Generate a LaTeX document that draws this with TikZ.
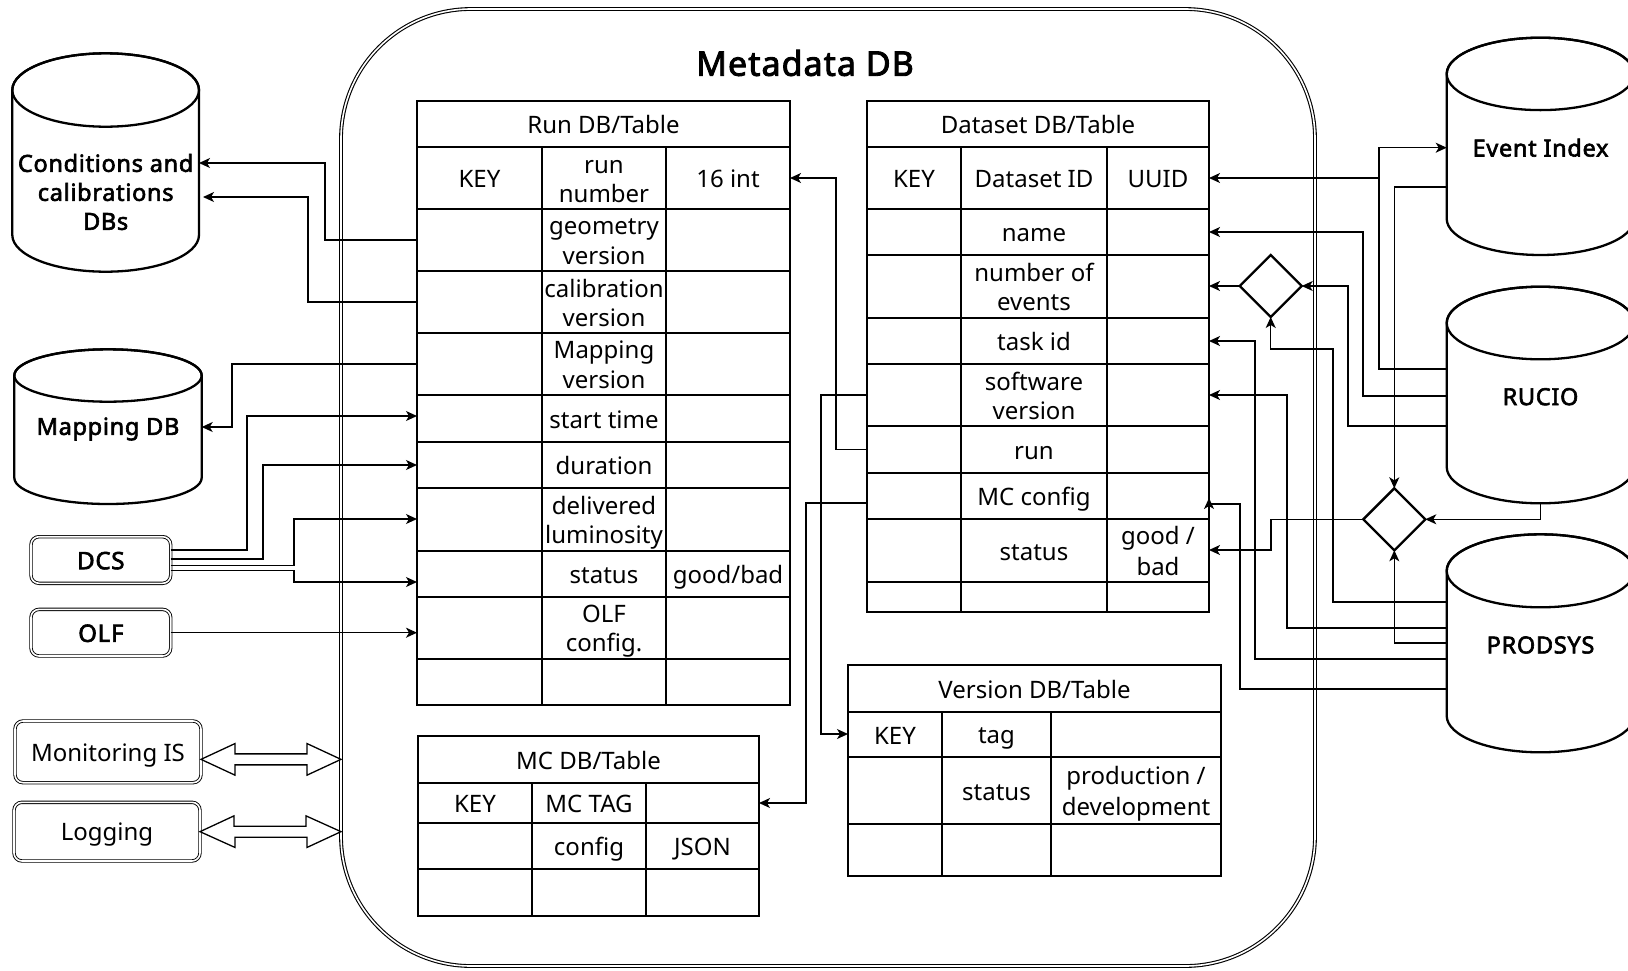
\documentclass[tikz,border=0pt]{standalone}
\usepackage{fontspec}
\setmainfont{Noto Sans}[BoldFont={Noto Sans}, BoldFeatures={FakeBold=2.6, LetterSpace=3}]
\usetikzlibrary{shapes.geometric,arrows.meta,calc}

\newcommand\mdTabFont{\fontsize{24}{28.8}\selectfont}
\newcommand\mdCylFont{\fontsize{23.5}{29}\selectfont\bfseries}
\newcommand\mdTitleFont{\fontsize{34}{40}\selectfont\bfseries}
\newcommand\mdExtFont{\fontsize{24}{28.8}\selectfont}
% line strut: every text line occupies one full baseline step
\newcommand\mdS{\rule[-4.8pt]{0pt}{28.8pt}}

\tikzset{
  cell/.style={draw, line width=1.3pt, inner sep=0pt, outer sep=0pt, align=center, font=\mdTabFont},
  celltext/.style={inner sep=0pt, outer sep=0pt, align=center, font=\mdTabFont},
  conn/.style={line width=1.3pt, -{Stealth[length=11pt,width=10pt,inset=3pt]}},
  cylline/.style={line width=2.3pt, fill=white},
  cyltext/.style={inner sep=0pt, outer sep=0pt, align=center, font=\mdCylFont},
  extbox/.style={draw, double, line width=0.9pt, double distance=1.6pt, rounded corners=8pt,
                 inner sep=0pt, outer sep=0pt, font=\mdExtFont, text height=21.2pt, text depth=2.8pt},
  gate/.style={diamond, draw, line width=2.3pt, inner sep=0pt, outer sep=0pt,
               minimum width=62pt, minimum height=62pt},
  hollow/.style={draw, line width=1.3pt, fill=white, line join=miter},
}

% one table cell: name, x1, y1, x2, y2, text
\newcommand\tcell[6]{%
  \node[cell, minimum width={(#4)-(#2)}, minimum height={(#5)-(#3)}]
    (#1) at ({((#2)+(#4))/2},{((#3)+(#5))/2}) {\mdS#6\mdS};}
% one three-column row: prefix, y1, y2, three texts
\newcommand\trow[6]{%
  \tcell{#1K}{\colA}{#2}{\colB}{#3}{#4}%
  \tcell{#1N}{\colB}{#2}{\colC}{#3}{#5}%
  \tcell{#1V}{\colC}{#2}{\colD}{#3}{#6}}
% database cylinder outline: left, top, right, bottom, ry
\newcommand\dbcyl[5]{%
  \pgfmathsetmacro\cylcx{((#1)+(#3))/2}%
  \pgfmathsetmacro\cylrx{((#3)-(#1))/2}%
  \draw[cylline] (#1,#2+#5) -- (#1,#4-#5)
     arc[start angle=180, end angle=0, x radius=\cylrx, y radius=#5] -- (#3,#2+#5)
     arc[start angle=0, end angle=-180, x radius=\cylrx, y radius=#5] -- cycle;
  \draw[line width=2.3pt] (\cylcx,#2+#5) ellipse [x radius=\cylrx, y radius=#5];}

\begin{document}
\begin{tikzpicture}[x=1pt,y=-1pt]
\useasboundingbox (0,0) rectangle (1628,970);
\fill[white] (0,0) rectangle (1628,970);

% ---------- container ----------
\node[draw, double, line width=1.1pt, double distance=1.6pt, rounded corners=130pt,
      minimum width=974pt, minimum height=957pt, inner sep=0pt, outer sep=0pt]
      (meta) at (828,487.5) {};
\node[font=\mdTitleFont, inner sep=0pt] (metaT) at (805,63) {Metadata DB};

% ---------- Run table ----------
\def\colA{417}\def\colB{542}\def\colC{666}\def\colD{790}
\tcell{rTitle}{417}{101}{790}{147}{Run DB/Table}
\trow{rNum}{147}{209}{KEY}{run\\number}{16 int}
\trow{rGeo}{209}{271}{}{geometry\\version}{}
\trow{rCal}{271}{333}{}{}{}
\begin{scope}
  \clip (rCalN.north west) rectangle (rCalN.south east);
  \node[celltext] (rCalT) at (rCalN.center) {\mdS calibration\\version\mdS};
\end{scope}
\trow{rMap}{333}{395}{}{Mapping\\version}{}
\trow{rStart}{395}{442}{}{start time}{}
\trow{rDur}{442}{488}{}{duration}{}
\trow{rDel}{488}{551}{}{delivered\\luminosity}{}
\trow{rStat}{551}{597}{}{status}{good/bad}
\trow{rOlf}{597}{659}{}{}{}
\begin{scope}
  \clip (rOlfN.north west) rectangle (rOlfN.south east);
  \node[celltext] (rOlfT) at (rOlfN.center) {\mdS OLF\\config.\mdS};
\end{scope}
\trow{rEnd}{659}{705}{}{}{}

% ---------- MC table ----------
\def\colA{418}\def\colB{532}\def\colC{646}\def\colD{759}
\tcell{mTitle}{418}{736}{759}{783}{MC DB/Table}
\trow{mTag}{783}{823}{KEY}{MC TAG}{}
\trow{mCfg}{823}{869}{}{config}{JSON}
\trow{mEnd}{869}{916}{}{}{}

% ---------- Dataset table ----------
\def\colA{867}\def\colB{961}\def\colC{1107}\def\colD{1209}
\tcell{dTitle}{867}{101}{1209}{147}{Dataset DB/Table}
\trow{dId}{147}{209}{KEY}{Dataset ID}{UUID}
\trow{dName}{209}{255}{}{name}{}
\trow{dNev}{255}{318}{}{number of\\events}{}
\trow{dTask}{318}{364}{}{task id}{}
\trow{dSw}{364}{426}{}{software\\version}{}
\trow{dRun}{426}{473}{}{run}{}
\trow{dMc}{473}{519}{}{MC config}{}
\trow{dStat}{519}{582}{}{status}{good /\\bad}
\trow{dEnd}{582}{612}{}{}{}

% ---------- Version table ----------
\def\colA{848}\def\colB{942}\def\colC{1051}\def\colD{1221}
\tcell{vTitle}{848}{665}{1221}{712}{Version DB/Table}
\trow{vTag}{712}{757}{KEY}{tag}{}
\trow{vStat}{757}{824}{}{status}{production /\\development}
\trow{vEnd}{824}{876}{}{}{}

% ---------- external databases ----------
\dbcyl{12.3}{53.3}{199}{271.7}{36.7}
\node[cyltext, minimum width=186.7pt] (cond) at (105.65,192) {Conditions and\\calibrations\\DBs};
\dbcyl{14.3}{349.3}{201.7}{504}{26.2}
\node[cyltext, minimum width=187.4pt] (map) at (108,429) {Mapping DB};
\dbcyl{1446.7}{37.7}{1634.3}{255}{36.2}
\node[cyltext, minimum width=187.6pt] (evidx) at (1540.5,147.7) {Event Index};
\dbcyl{1446.7}{286.7}{1634.3}{503.3}{36.3}
\node[cyltext, minimum width=187.6pt] (rucio) at (1540.5,396.7) {RUCIO};
\dbcyl{1446.7}{534.3}{1634.3}{752.3}{36.5}
\node[cyltext, minimum width=187.6pt] (prod) at (1540.5,645) {PRODSYS};

% ---------- external services ----------
\node[extbox, font=\mdExtFont\bfseries, minimum width=139.7pt, minimum height=46.6pt] (dcs) at (100.85,560) {DCS};
\node[extbox, font=\mdExtFont\bfseries, minimum width=139.7pt, minimum height=46.6pt] (olf) at (100.85,632.7) {OLF};
\node[extbox, minimum width=186pt, minimum height=61.7pt] (mon) at (108,751.85) {Monitoring IS};
\node[extbox, minimum width=186pt, minimum height=58.7pt] (log) at (107,831.65) {Logging};

% ---------- merge gates ----------
\node[gate] (gA) at (1270.7,286) {};
\node[gate] (gB) at (1394.3,519.3) {};

% ---------- two-way links to the container ----------
\coordinate (h1) at ($(mon.east)+(0,7.5)$);
\draw[hollow] (h1) -- ++(34,-15.8) -- ++(0,10.3) -- ++(72,0) -- ++(0,-10.3)
   -- (h1 -| meta.west) -- ++(-34,15.8) -- ++(0,-10.3) -- ++(-72,0) -- ++(0,10.3) -- cycle;
\coordinate (h2) at (log.east);
\draw[hollow] (h2) -- ++(34,-15.8) -- ++(0,10.3) -- ++(72,0) -- ++(0,-10.3)
   -- (h2 -| meta.west) -- ++(-34,15.8) -- ++(0,-10.3) -- ++(-72,0) -- ++(0,10.3) -- cycle;

% ---------- run table to left-hand databases ----------
\coordinate (k1) at (325,163);
\draw[conn] (rGeoK.west) -| (k1) -- (k1 -| cond.east);
\coordinate (k2) at (308,197);
\draw[conn, shorten >=4pt] (rCalK.west) -| (k2) -- (k2 -| cond.east);
\coordinate (k3) at (232,427);
\draw[conn] (rMapK.west) -| (k3) -- (k3 -| map.east);

% ---------- DCS and OLF feeds ----------
\coordinate (k4) at (247,416);
\draw[conn] ($(dcs.east)+(0,-10)$) -| (k4) -- (k4 -| rStartK.west);
\coordinate (k5) at (263,465);
\draw[conn] ($(dcs.east)+(0,-1)$) -| (k5) -- (k5 -| rDurK.west);
\coordinate (k6) at (294,519);
\draw[conn] ($(dcs.east)+(0,5.5)$) -| (k6) -- (k6 -| rDelK.west);
\coordinate (k7) at (294,582);
\draw[conn] ($(dcs.east)+(0,10.5)$) -| (k7) -- (k7 -| rStatK.west);
\draw[conn] (olf.east) -- (olf.east -| rOlfK.west);

% ---------- links between tables ----------
\coordinate (k8) at (836,178);
\draw[conn] (dRunK.west) -| (k8) -- (k8 -| rNumV.east);
\coordinate (k9) at (821,734);
\draw[conn] (dSwK.west) -| (k9) -- (k9 -| vTagK.west);
\coordinate (k10) at (806,503);
\draw[conn] (k10 -| dMcK.west) -- (k10) |- (mTagV.east);

% ---------- right-hand sources ----------
\coordinate (k11) at (1379,369);
\draw[conn] (k11 -| rucio.west) -- (k11) |- (evidx.west);
\draw[conn] (k11 |- dIdV.east) -- (dIdV.east);
\coordinate (k12) at (1394.3,187);
\draw[conn] (k12 -| evidx.west) -- (k12) -- (gB.north);
\coordinate (k13) at (1363,396);
\draw[conn] (k13 -| rucio.west) -- (k13) |- (dNameV.east);
\coordinate (k14) at (1348,426);
\draw[conn] (k14 -| rucio.west) -- (k14) |- (gA.east);
\draw[conn] (gA.west) -- (gA.west -| dNevV.east);
\coordinate (k15) at (1333,602);
\coordinate (k15b) at (1333,349);
\draw[conn] (k15 -| prod.west) -- (k15) -- (k15b) -- (k15b -| gA.south) -- (gA.south);
\coordinate (k16) at (1255,659);
\draw[conn] (k16 -| prod.west) -- (k16) |- (dTaskV.east);
\coordinate (k17) at (1287,628);
\draw[conn] (k17 -| prod.west) -- (k17) |- (dSwV.east);
\coordinate (k18) at (1240,689);
\coordinate (k18b) at (1240,504);
\draw[conn] (k18 -| prod.west) -- (k18) -- (k18b) -- (k18b -| dMcV.east) -- ++(0,-6);
\coordinate (k19) at (1271,550);
\draw[conn] (gB.west) -| (k19) -- (k19 -| dStatV.east);
\coordinate (rucioB) at (1540.5,503.3);
\draw[conn] (rucioB) |- (gB.east);
\coordinate (k20) at (1394.3,643);
\draw[conn] (k20 -| prod.west) -- (k20) -- (gB.south);
\end{tikzpicture}
\end{document}
